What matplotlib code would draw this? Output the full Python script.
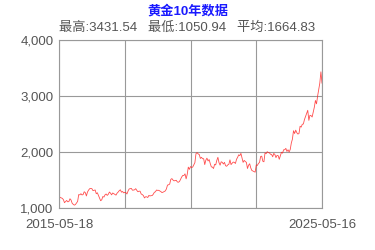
import matplotlib
matplotlib.use("Agg")
import matplotlib.pyplot as plt
from matplotlib.ticker import FuncFormatter

plt.rcParams['font.family'] = ['Liberation Sans', 'Noto Sans CJK SC', 'DejaVu Sans']

title = "黄金10年数据"
stats_text = "最高:3431.54   最低:1050.94   平均:1664.83"
start_label = "2015-05-18"
end_label = "2025-05-16"

# semi-monthly gold prices (USD/oz)
prices_2015 = [1205, 1190, 1180, 1172, 1150, 1095, 1115, 1135, 1110, 1115, 1165, 1142, 1085, 1065, 1051, 1062]
prices_2016 = [1090, 1118, 1240, 1234, 1255, 1233, 1240, 1290, 1275, 1215, 1285, 1320,
               1345, 1350, 1345, 1310, 1315, 1322, 1255, 1272, 1225, 1178, 1130, 1146]
prices_2017 = [1205, 1195, 1235, 1250, 1225, 1245, 1285, 1265, 1235, 1268, 1255, 1242,
               1230, 1265, 1285, 1310, 1325, 1283, 1295, 1270, 1280, 1275, 1250, 1303]
prices_2018 = [1340, 1345, 1350, 1318, 1320, 1325, 1345, 1315, 1290, 1300, 1300, 1250,
               1240, 1222, 1180, 1200, 1200, 1187, 1225, 1215, 1220, 1222, 1245, 1280]
prices_2019 = [1290, 1321, 1315, 1316, 1305, 1292, 1275, 1283, 1295, 1305, 1340, 1409,
               1415, 1427, 1510, 1525, 1500, 1485, 1490, 1495, 1465, 1460, 1475, 1515]
prices_2020 = [1555, 1582, 1580, 1610, 1520, 1600, 1730, 1690, 1740, 1725, 1730, 1770,
               1810, 1970, 1990, 1965, 1955, 1885, 1905, 1880, 1880, 1775, 1855, 1890]
prices_2021 = [1840, 1865, 1795, 1735, 1730, 1705, 1780, 1770, 1850, 1905, 1810, 1765,
               1825, 1815, 1785, 1815, 1755, 1745, 1770, 1780, 1860, 1775, 1800, 1820]
prices_2022 = [1815, 1795, 1870, 1905, 1950, 1935, 1975, 1895, 1815, 1850, 1830, 1815,
               1705, 1765, 1790, 1715, 1670, 1660, 1650, 1640, 1770, 1760, 1795, 1815]
prices_2023 = [1920, 1925, 1835, 1825, 1985, 1970, 2005, 1990, 1985, 1960, 1955, 1915,
               1975, 1955, 1900, 1940, 1935, 1870, 1930, 1995, 1980, 2040, 2040, 2065]
prices_2024 = [2010, 2040, 2000, 2045, 2160, 2230, 2380, 2330, 2390, 2345, 2320, 2330,
               2460, 2445, 2495, 2500, 2580, 2635, 2690, 2745, 2565, 2655, 2650, 2625]
prices_2025 = [2715, 2800, 2920, 2860, 3000, 3120, 3230, 3431.54, 3230]

prices = (prices_2015 + prices_2016 + prices_2017 + prices_2018 + prices_2019 +
          prices_2020 + prices_2021 + prices_2022 + prices_2023 + prices_2024 + prices_2025)

y_ticks = [1000, 2000, 3000, 4000]

fig = plt.figure(figsize=(3.75, 2.5), dpi=100)
ax = fig.add_axes([59/375, 1 - 208/250, (322-59)/375, (208-40)/250])

x = list(range(len(prices)))
ax.plot(x, prices, color='#ff2020', linewidth=0.6, alpha=0.8)

n = len(prices) - 1
ax.set_xlim(0, n)
ax.set_ylim(1000, 4000)
ax.set_yticks(y_ticks)
ax.yaxis.set_major_formatter(FuncFormatter(lambda v, p: f"{int(v):,}"))
ax.set_xticks([0, n * 0.25, n * 0.5, n * 0.75, n])
ax.set_xticklabels([start_label, "", "", "", end_label])

ax.grid(True, color='#999999', linewidth=0.8)
for s in ax.spines.values():
    s.set_color('#999999')
    s.set_linewidth(0.8)
ax.tick_params(length=0, colors='#555555', labelsize=9.5, pad=4)
ax.tick_params(axis='x', pad=8)

fig.text(0.5, 1 - 11/250, title, ha='center', va='center', color='#1a1aff',
         fontsize=9.5, fontweight='bold')
fig.text(0.5, 1 - 28/250, stats_text, ha='center', va='center', color='#555555',
         fontsize=9.5)

fig.savefig("out.png", dpi=100)
